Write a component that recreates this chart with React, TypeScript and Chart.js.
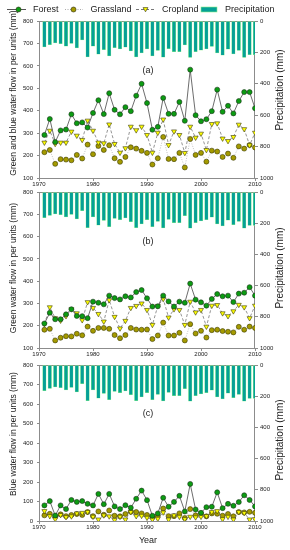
import React, { useEffect, useRef } from 'react';
import { Chart, registerables } from 'chart.js';

Chart.register(...registerables);

const FONT = "'Liberation Sans', Arial, Helvetica, sans-serif";

// ---------------- data ----------------
const years = [
  1971, 1972, 1973, 1974, 1975, 1976, 1977, 1978, 1979, 1980,
  1981, 1982, 1983, 1984, 1985, 1986, 1987, 1988, 1989, 1990,
  1991, 1992, 1993, 1994, 1995, 1996, 1997, 1998, 1999, 2000,
  2001, 2002, 2003, 2004, 2005, 2006, 2007, 2008, 2009, 2010,
];

const precipitation = [
  165, 150, 140, 145, 160, 143, 172, 120, 228, 160,
  212, 182, 222, 170, 178, 166, 190, 228, 204, 178,
  222, 188, 230, 176, 196, 196, 152, 232, 196, 186,
  178, 162, 204, 218, 180, 210, 188, 232, 214, 214,
];

const forestA = [
  292, 363, 260, 312, 316, 384, 344, 348, 325, 390,
  447, 385, 478, 404, 384, 416, 398, 467, 520, 434,
  315, 328, 457, 386, 386, 439, 355, 583, 380, 353,
  362, 398, 494, 395, 422, 388, 443, 483, 483, 411,
];
const grassA = [
  215, 225, 163, 184, 182, 179, 203, 187, 249, 206,
  243, 225, 246, 188, 172, 194, 237, 231, 221, 212,
  160, 188, 283, 185, 184, 212, 147, 274, 203, 212,
  173, 222, 218, 194, 209, 190, 241, 231, 247, 236,
];
const cropA = [
  258, 311, 252, 258, 258, 307, 289, 270, 356, 311,
  258, 255, 339, 252, 213, 233, 329, 313, 329, 292,
  213, 302, 361, 247, 308, 292, 212, 329, 280, 298,
  225, 341, 344, 276, 265, 283, 338, 318, 246, 302,
];

const forestB = [
  210, 258, 229, 229, 251, 274, 244, 243, 234, 308,
  303, 296, 335, 324, 318, 332, 327, 351, 360, 323,
  286, 287, 335, 309, 286, 308, 303, 389, 317, 305,
  290, 320, 342, 332, 335, 306, 344, 348, 373, 335,
];
const grassB = [
  182, 186, 134, 146, 153, 152, 164, 157, 196, 177,
  190, 190, 186, 158, 144, 158, 190, 183, 182, 183,
  140, 156, 214, 156, 156, 168, 134, 207, 165, 177,
  147, 180, 182, 176, 173, 170, 195, 182, 196, 190,
];
const cropB = [
  207, 283, 234, 223, 243, 274, 256, 225, 306, 280,
  253, 219, 315, 240, 188, 222, 280, 289, 300, 271,
  204, 289, 320, 237, 274, 271, 204, 308, 260, 271,
  196, 290, 293, 256, 243, 265, 294, 283, 234, 290,
];

const forestC = [
  80, 102, 28, 80, 61, 108, 98, 102, 88, 80,
  139, 86, 139, 75, 61, 81, 68, 114, 156, 107,
  27, 39, 119, 73, 98, 129, 49, 190, 59, 42,
  71, 73, 147, 66, 88, 78, 97, 132, 108, 75,
];
const grassC = [
  29, 37, 22, 34, 25, 31, 36, 31, 46, 25,
  49, 32, 54, 27, 24, 36, 47, 46, 39, 31,
  20, 27, 64, 25, 25, 39, 15, 61, 29, 39,
  24, 39, 37, 27, 36, 24, 46, 44, 47, 42,
];
const cropC = [
  51, 25, 10, 31, 20, 24, 39, 42, 47, 22,
  8, 29, 24, 5, 22, 8, 46, 25, 27, 17,
  8, 12, 44, 8, 29, 22, 10, 22, 19, 22,
  25, 46, 51, 10, 22, 8, 46, 41, 8, 10,
];

const seriesNames = ['Forest', 'Grassland', 'Cropland', 'Precipitation'];
const leftTitles = [
  'Green and blue water flow in per units (mm)',
  'Green water flow in per units (mm)',
  'Blue water flow in per units (mm)',
];
const panelLabels = ['(a)', '(b)', '(c)'];
const rightTitle = 'Precipitation (mm)';
const xTitle = 'Year';

// ---------------- styles ----------------
const FOREST_FILL = '#0c9c12';
const GRASS_FILL = '#a49a00';
const CROP_FILL = '#ffff00';
const BAR_FILL = '#05a096';
const BAR_EDGE = '#8cf28c';
const AXIS_COLOR = '#8c8c8c';
const TEXT_COLOR = '#222';

type Panel = {
  forest: number[];
  grass: number[];
  crop: number[];
  yMin: number;
  yMax: number;
  leftTitle: string;
  label: string;
  labelY: number;
  canvasTop: number;
  canvasHeight: number;
  padTop: number;
  padBottom: number;
  leftTitleY: number;
  rightTitleY: number;
  legend: boolean;
  showXTitle: boolean;
};

const panels: Panel[] = [
  {
    forest: forestA, grass: grassA, crop: cropA, yMin: 100, yMax: 800,
    leftTitle: leftTitles[0], label: panelLabels[0], labelY: 578,
    canvasTop: 0, canvasHeight: 195, padTop: 21, padBottom: 6,
    leftTitleY: 93, rightTitleY: 90, legend: true, showXTitle: false,
  },
  {
    forest: forestB, grass: grassB, crop: cropB, yMin: 100, yMax: 800,
    leftTitle: leftTitles[1], label: panelLabels[1], labelY: 576,
    canvasTop: 180, canvasHeight: 182, padTop: 12, padBottom: 3,
    leftTitleY: 88, rightTitleY: 88, legend: false, showXTitle: false,
  },
  {
    forest: forestC, grass: grassC, crop: cropC, yMin: 0, yMax: 800,
    leftTitle: leftTitles[2], label: panelLabels[2], labelY: 550,
    canvasTop: 352, canvasHeight: 198, padTop: 13, padBottom: 18,
    leftTitleY: 82, rightTitleY: 88, legend: false, showXTitle: true,
  },
];

function drawMarker(ctx: CanvasRenderingContext2D, kind: string, x: number, y: number, r: number, fill: string) {
  ctx.save();
  ctx.fillStyle = fill;
  ctx.strokeStyle = '#2a2a10';
  ctx.lineWidth = 0.6;
  ctx.setLineDash([]);
  ctx.beginPath();
  if (kind === 'triangle') {
    ctx.moveTo(x - r * 0.866, y - r * 0.5);
    ctx.lineTo(x + r * 0.866, y - r * 0.5);
    ctx.lineTo(x, y + r);
    ctx.closePath();
  } else {
    ctx.arc(x, y, r, 0, Math.PI * 2);
  }
  ctx.fill();
  ctx.stroke();
  ctx.restore();
}

const decorPlugin = {
  id: 'decor',
  beforeDatasetsDraw(chart: any) {
    const { ctx, chartArea: a } = chart;
    ctx.save();
    ctx.strokeStyle = AXIS_COLOR;
    ctx.lineWidth = 1;
    ctx.strokeRect(Math.round(a.left) + 0.5, Math.round(a.top) + 0.5,
      Math.round(a.right - a.left) - 1, Math.round(a.bottom - a.top));
    ctx.restore();
  },
  afterDraw(chart: any, _args: any, opts: any) {
    const p: Panel = opts.panel;
    const { ctx } = chart;
    ctx.save();
    ctx.fillStyle = TEXT_COLOR;
    ctx.font = `8.5px ${FONT}`;
    ctx.textAlign = 'center';
    ctx.textBaseline = 'middle';
    ctx.save();
    ctx.translate(13.5, p.leftTitleY);
    ctx.rotate(-Math.PI / 2);
    ctx.fillText(p.leftTitle, 0, 0);
    ctx.restore();
    ctx.font = `10px ${FONT}`;
    ctx.save();
    ctx.translate(280, p.rightTitleY);
    ctx.rotate(-Math.PI / 2);
    ctx.fillText(rightTitle, 0, 0);
    ctx.restore();
    const xs = chart.scales.x;
    const ys = chart.scales.y;
    ctx.font = `9px ${FONT}`;
    ctx.fillText(p.label, xs.getPixelForValue(1990.2), ys.getPixelForValue(p.labelY));
    if (p.showXTitle) {
      ctx.font = `9px ${FONT}`;
      ctx.fillText(xTitle, 148, 189);
    }
    if (p.legend) {
      const y = 9.5;
      ctx.font = `9px ${FONT}`;
      ctx.textAlign = 'left';
      ctx.strokeStyle = '#555';
      ctx.lineWidth = 1;
      ctx.setLineDash([]);
      ctx.beginPath(); ctx.moveTo(7, y); ctx.lineTo(26, y); ctx.stroke();
      drawMarker(ctx, 'circle', 18.5, y, 2.5, FOREST_FILL);
      ctx.fillStyle = TEXT_COLOR;
      ctx.fillText(seriesNames[0], 33, y);
      ctx.strokeStyle = '#aaa';
      ctx.setLineDash([1, 1.5]);
      ctx.beginPath(); ctx.moveTo(65, y); ctx.lineTo(83, y); ctx.stroke();
      drawMarker(ctx, 'circle', 73.5, y, 2.5, GRASS_FILL);
      ctx.fillStyle = TEXT_COLOR;
      ctx.fillText(seriesNames[1], 90.5, y);
      ctx.strokeStyle = '#777';
      ctx.setLineDash([3, 2]);
      ctx.beginPath(); ctx.moveTo(136, y); ctx.lineTo(155, y); ctx.stroke();
      drawMarker(ctx, 'triangle', 145.5, y - 0.5, 2.8, CROP_FILL);
      ctx.fillStyle = TEXT_COLOR;
      ctx.fillText(seriesNames[2], 162, y);
      ctx.setLineDash([]);
      ctx.fillStyle = BAR_FILL;
      ctx.fillRect(201, 7, 16, 5);
      ctx.strokeStyle = BAR_EDGE;
      ctx.lineWidth = 0.6;
      ctx.strokeRect(201, 7, 16, 5);
      ctx.fillStyle = TEXT_COLOR;
      ctx.fillText(seriesNames[3], 225, y);
    }
    ctx.restore();
  },
};

function buildChart(canvas: HTMLCanvasElement, p: Panel) {
  const tickFont = { size: 6, family: FONT };
  return new Chart(canvas, {
    type: 'line',
    data: {
      datasets: [
        {
          type: 'line',
          label: seriesNames[0],
          data: years.map((x, i) => ({ x, y: p.forest[i] })),
          yAxisID: 'y',
          borderColor: '#5c5c5c',
          borderWidth: 0.9,
          pointRadius: 2.5,
          pointBackgroundColor: FOREST_FILL,
          pointBorderColor: '#1d321d',
          pointBorderWidth: 0.6,
          order: 1,
        },
        {
          type: 'line',
          label: seriesNames[2],
          data: years.map((x, i) => ({ x, y: p.crop[i] })),
          yAxisID: 'y',
          borderColor: '#7a7a7a',
          borderWidth: 0.8,
          borderDash: [3, 2],
          pointStyle: 'triangle',
          pointRotation: 180,
          pointRadius: 2.9,
          pointBackgroundColor: CROP_FILL,
          pointBorderColor: '#3a3a10',
          pointBorderWidth: 0.6,
          order: 2,
        },
        {
          type: 'line',
          label: seriesNames[1],
          data: years.map((x, i) => ({ x, y: p.grass[i] })),
          yAxisID: 'y',
          borderColor: '#b0b0b0',
          borderWidth: 0.8,
          borderDash: [1, 1.5],
          pointRadius: 2.5,
          pointBackgroundColor: GRASS_FILL,
          pointBorderColor: '#3a3a00',
          pointBorderWidth: 0.6,
          order: 3,
        },
        {
          type: 'bar',
          label: seriesNames[3],
          data: years.map((x, i) => ({ x, y: precipitation[i] })),
          yAxisID: 'y1',
          backgroundColor: BAR_FILL,
          borderColor: BAR_EDGE,
          borderWidth: 0.5,
          borderSkipped: false,
          barThickness: 3.4,
          order: 10,
        } as any,
      ],
    },
    options: {
      responsive: false,
      animation: false,
      events: [],
      layout: { padding: { top: p.padTop, bottom: p.padBottom, left: 0, right: 0 } },
      plugins: {
        legend: { display: false },
        tooltip: { enabled: false },
        decor: { panel: p },
      } as any,
      scales: {
        x: {
          type: 'linear',
          position: 'bottom',
          min: 1970,
          max: 2010,
          offset: false,
          afterFit: (s: any) => { s.height = 11; },
          ticks: {
            stepSize: 10,
            autoSkip: false,
            maxRotation: 0,
            padding: 0,
            font: tickFont,
            color: TEXT_COLOR,
            callback: (v: any) => String(v),
          },
          grid: { drawOnChartArea: false, tickLength: 3, color: AXIS_COLOR, offset: false },
          border: { display: false },
        },
        y: {
          type: 'linear',
          position: 'left',
          min: p.yMin,
          max: p.yMax,
          afterFit: (s: any) => { s.width = 39; },
          ticks: { stepSize: 100, padding: 4, font: tickFont, color: TEXT_COLOR, callback: (v: any) => String(v) },
          grid: { drawOnChartArea: false, tickLength: 2, color: AXIS_COLOR },
          border: { display: false },
        },
        y1: {
          type: 'linear',
          position: 'right',
          min: 0,
          max: 1000,
          reverse: true,
          afterFit: (s: any) => { s.width = 35; },
          ticks: { stepSize: 200, padding: 2, font: tickFont, color: TEXT_COLOR, callback: (v: any) => String(v) },
          grid: { drawOnChartArea: false, tickLength: 3, color: AXIS_COLOR },
          border: { display: false },
        },
      },
    } as any,
    plugins: [decorPlugin as any],
  });
}

function PanelChart({ p }: { p: Panel }) {
  const ref = useRef<HTMLCanvasElement | null>(null);
  useEffect(() => {
    if (!ref.current) return;
    const chart = buildChart(ref.current, p);
    return () => chart.destroy();
  }, [p]);
  return (
    <canvas
      ref={ref}
      width={290}
      height={p.canvasHeight}
      style={{ position: 'absolute', left: 0, top: p.canvasTop, width: 290, height: p.canvasHeight }}
    />
  );
}

export default function App() {
  return (
    <div style={{ position: 'absolute', left: 0, top: 0, width: 290, height: 550, background: '#fff', overflow: 'hidden' }}>
      {panels.map((p, i) => (
        <PanelChart key={i} p={p} />
      ))}
    </div>
  );
}
